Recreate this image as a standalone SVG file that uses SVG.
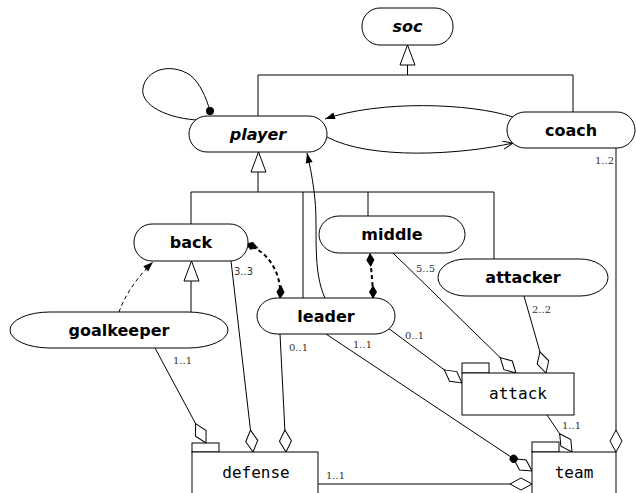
<svg xmlns="http://www.w3.org/2000/svg" width="636" height="493" viewBox="0 0 636 493">
  <style>
    .node { fill: #fff; stroke: #000; stroke-width: 1; }
    .box { fill: #fff; stroke: #000; stroke-width: 1; }
    .lbl { font-family: "DejaVu Sans", "Liberation Sans", sans-serif; font-weight: bold; font-size: 16px; text-anchor: middle; fill: #000; }
    .it { font-style: italic; }
    .pkg { font-family: "DejaVu Sans Mono", "Liberation Mono", monospace; font-size: 16px; text-anchor: middle; fill: #000; }
    .mult { font-family: "DejaVu Serif", "Liberation Serif", serif; font-size: 10px; fill: #333; }
    .mults { font-family: "DejaVu Sans", "Liberation Sans", sans-serif; font-size: 10px; fill: #333; }
    .ln { fill: none; stroke: #000; stroke-width: 1; }
    .dash { fill: none; stroke: #000; stroke-width: 1; stroke-dasharray: 4 3; }
    .dashb { fill: none; stroke: #000; stroke-width: 2; stroke-dasharray: 4 3; }
    .tri { fill: #fff; stroke: #000; stroke-width: 1; }
  </style>
  <defs>
    <marker id="agg" markerUnits="userSpaceOnUse" orient="auto" refX="22" refY="0" markerWidth="24" markerHeight="14" overflow="visible">
      <path d="M0,0 L11,-6 L22,0 L11,6 z" fill="#fff" stroke="#000" stroke-width="1"/>
    </marker>
    <marker id="aggdot" markerUnits="userSpaceOnUse" orient="auto" refX="22" refY="0" markerWidth="24" markerHeight="14" overflow="visible">
      <path d="M0,0 L11,-6 L22,0 L11,6 z" fill="#fff" stroke="#000" stroke-width="1"/>
      <circle cx="0" cy="0" r="4" fill="#000"/>
    </marker>
    <marker id="comp" markerUnits="userSpaceOnUse" orient="auto-start-reverse" refX="12" refY="0" markerWidth="14" markerHeight="8" overflow="visible">
      <path d="M0,0 L6,-3.5 L12,0 L6,3.5 z" fill="#000" stroke="#000" stroke-width="1"/>
    </marker>
    <marker id="arrow" markerUnits="userSpaceOnUse" orient="auto" refX="10" refY="0" markerWidth="12" markerHeight="8" overflow="visible">
      <path d="M0,-3.5 L10,0 L0,3.5 z" fill="#000"/>
    </marker>
    <marker id="vee" markerUnits="userSpaceOnUse" orient="auto" refX="10" refY="0" markerWidth="12" markerHeight="10" overflow="visible">
      <path d="M0,-4 L10,0 L0,4" fill="none" stroke="#000" stroke-width="1"/>
    </marker>
  </defs>

  <!-- connectors -->
  <g id="connectors">
    <!-- generalisation: player, coach -> soc -->
    <polyline class="ln" points="258,116 258,75 573,75 573,112"/>
    <line class="ln" x1="407.5" y1="65" x2="407.5" y2="75"/>
    <polygon class="tri" points="407.5,45 400,65 415,65"/>

    <!-- generalisation: back, leader, middle, attacker -> player -->
    <polyline class="ln" points="191,224 191,192 494,192 494,259"/>
    <line class="ln" x1="303" y1="192" x2="303" y2="298"/>
    <line class="ln" x1="368" y1="192" x2="368" y2="216"/>
    <line class="ln" x1="258" y1="172" x2="258" y2="192"/>
    <polygon class="tri" points="258.5,152 251,172 266,172"/>

    <!-- generalisation: goalkeeper -> back -->
    <line class="ln" x1="191" y1="281" x2="191" y2="312"/>
    <polygon class="tri" points="191.5,261 184,281 199,281"/>

    <!-- player self association -->
    <path class="ln" d="M196,120 C160,117 140,102 143,88 C146,70 170,62 190,75 C200,83 206,97 210,111"/>
    <circle cx="210" cy="111" r="4" fill="#000"/>

    <!-- player <-> coach -->
    <path class="ln" d="M513,117 C470,103 380,100 325,119" marker-end="url(#arrow)"/>
    <path class="ln" d="M327,137 C370,160 460,155 513,143" marker-end="url(#vee)"/>

    <!-- leader -> player -->
    <path class="ln" d="M325,298 C312,270 318,230 315,200 C313,180 310,166 307,153" marker-end="url(#arrow)"/>

    <!-- goalkeeper -> back (dependency) -->
    <path class="dash" d="M119,312 C125,295 138,276 153,262" marker-end="url(#arrow)"/>

    <!-- compositions -->
    <path class="dashb" d="M246,244 C270,252 282,275 280,298" marker-start="url(#comp)" marker-end="url(#comp)"/>
    <path class="dashb" d="M370,254 C371,270 373,285 373,298" marker-start="url(#comp)" marker-end="url(#comp)"/>

    <!-- aggregations -->
    <line class="ln" x1="155" y1="348" x2="206" y2="443" marker-end="url(#agg)"/>
    <line class="ln" x1="231" y1="261" x2="253" y2="452" marker-end="url(#agg)"/>
    <line class="ln" x1="280" y1="334" x2="286" y2="452" marker-end="url(#agg)"/>
    <line class="ln" x1="388" y1="328" x2="462" y2="383" marker-end="url(#agg)"/>
    <line class="ln" x1="393" y1="253" x2="516" y2="373" marker-end="url(#agg)"/>
    <line class="ln" x1="524" y1="296" x2="546" y2="373" marker-end="url(#agg)"/>
    <line class="ln" x1="547" y1="415" x2="572" y2="452" marker-end="url(#agg)"/>
    <line class="ln" x1="616" y1="148" x2="616" y2="452" marker-end="url(#agg)"/>
    <line class="ln" x1="318" y1="484" x2="532" y2="484" marker-end="url(#agg)"/>
    <line class="ln" x1="326" y1="334" x2="532" y2="471" marker-end="url(#aggdot)"/>

    <!-- multiplicities -->
    <text class="mult" x="614" y="164" text-anchor="end">1..2</text>
    <text class="mults" x="234" y="275">3..3</text>
    <text class="mult" x="416" y="272">5..5</text>
    <text class="mult" x="532" y="313">2..2</text>
    <text class="mult" x="405" y="339">0..1</text>
    <text class="mult" x="353" y="348">1..1</text>
    <text class="mult" x="289" y="351">0..1</text>
    <text class="mult" x="173" y="364">1..1</text>
    <text class="mult" x="326" y="479">1..1</text>
    <text class="mult" x="562" y="429">1..1</text>
  </g>

  <!-- nodes -->
  <g id="soc">
    <rect class="node" x="362" y="8" width="91" height="37" rx="18"/>
    <text class="lbl it" x="407.5" y="32">soc</text>
  </g>
  <g id="player">
    <rect class="node" x="189" y="116" width="138" height="36" rx="18"/>
    <text class="lbl it" x="258" y="140">player</text>
  </g>
  <g id="coach">
    <rect class="node" x="507" y="112" width="128" height="36" rx="18"/>
    <text class="lbl" x="571" y="136">coach</text>
  </g>
  <g id="back">
    <rect class="node" x="134" y="224" width="114" height="37" rx="18"/>
    <text class="lbl" x="191" y="248">back</text>
  </g>
  <g id="middle">
    <rect class="node" x="319" y="216" width="146" height="37" rx="20"/>
    <text class="lbl" x="392" y="240">middle</text>
  </g>
  <g id="attacker">
    <rect class="node" x="438" y="259" width="170" height="37" rx="28" ry="18.5"/>
    <text class="lbl" x="523" y="283">attacker</text>
  </g>
  <g id="leader">
    <rect class="node" x="257" y="298" width="138" height="36" rx="20" ry="18"/>
    <text class="lbl" x="326" y="322">leader</text>
  </g>
  <g id="goalkeeper">
    <rect class="node" x="10" y="312" width="218" height="36" rx="40" ry="18"/>
    <text class="lbl" x="119" y="336">goalkeeper</text>
  </g>
  <g id="defense">
    <rect class="box" x="192" y="443" width="27" height="9"/>
    <rect class="box" x="192" y="452" width="126" height="50"/>
    <text class="pkg" x="256" y="478">defense</text>
  </g>
  <g id="attack">
    <rect class="box" x="462" y="363" width="27" height="10"/>
    <rect class="box" x="462" y="373" width="112" height="42"/>
    <text class="pkg" x="518" y="399">attack</text>
  </g>
  <g id="team">
    <rect class="box" x="532" y="442" width="27" height="10"/>
    <rect class="box" x="532" y="452" width="84" height="50"/>
    <text class="pkg" x="574" y="478">team</text>
  </g>
</svg>
